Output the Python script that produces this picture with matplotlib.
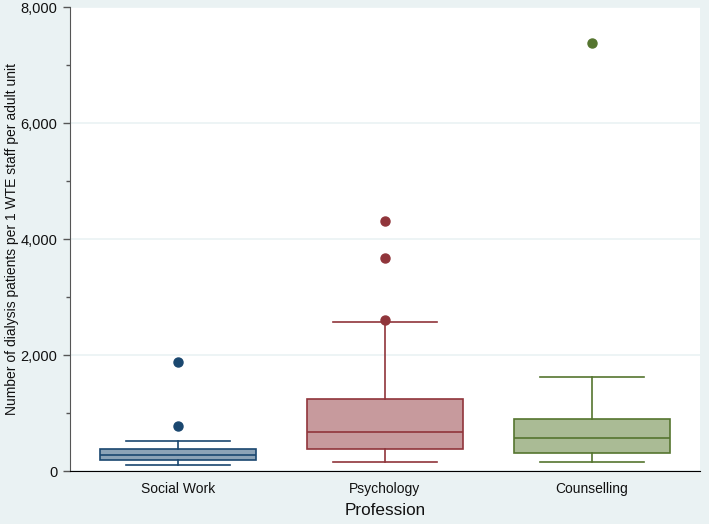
import matplotlib.pyplot as plt
from matplotlib.ticker import FuncFormatter, MultipleLocator

plt.rcParams['font.family'] = ['Liberation Sans', 'DejaVu Sans']

professions = ['Social Work', 'Psychology', 'Counselling']
q1 = [190, 374, 305]
median = [280, 667, 575]
q3 = [380, 1241, 897]
whis_lo = [98, 155, 160]
whis_hi = [517, 2570, 1626]
fliers = [[776, 1885], [2600, 3670, 4310], [7385]]

edge_colors = ['#1a476f', '#90353b', '#55752f']
fill_colors = ['#8ca3b7', '#c79a9d', '#aabb95']

bg = '#eaf2f3'
fig = plt.figure(figsize=(7.09, 5.24), dpi=100, facecolor=bg)
ax = fig.add_axes([0.0987, 0.1011, 0.8886, 0.8855])
ax.set_facecolor('white')

stats = []
for i, name in enumerate(professions):
    stats.append(dict(label=name, q1=q1[i], med=median[i], q3=q3[i],
                      whislo=whis_lo[i], whishi=whis_hi[i], fliers=fliers[i]))

for i, s in enumerate(stats):
    c = edge_colors[i]
    ax.bxp([s], positions=[i + 1], widths=0.755, capwidths=0.5,
           patch_artist=True, zorder=3,
           boxprops=dict(facecolor=fill_colors[i], edgecolor=c, linewidth=1.2),
           medianprops=dict(color=c, linewidth=1.2),
           whiskerprops=dict(color=c, linewidth=1.2),
           capprops=dict(color=c, linewidth=1.2),
           flierprops=dict(marker='o', markerfacecolor=c, markeredgecolor=c,
                           markersize=6.5, linestyle='none'))

ax.set_xlim(0.478, 3.522)
ax.set_ylim(0, 8000)
ax.yaxis.set_major_locator(MultipleLocator(2000))
ax.yaxis.set_minor_locator(MultipleLocator(1000))
ax.yaxis.set_major_formatter(FuncFormatter(lambda v, p: f'{int(v):,}'))
ax.grid(axis='y', which='major', color=bg, linewidth=1.2, zorder=0)
ax.set_axisbelow(True)

for side in ['top', 'right']:
    ax.spines[side].set_visible(False)
ax.spines['left'].set_color('#555555')
ax.spines['bottom'].set_color('black')

ax.tick_params(axis='y', which='major', length=5, width=1, color='#555555',
               labelsize=10.5, pad=4, labelcolor='#111111')
ax.tick_params(axis='y', which='minor', length=3, width=1, color='#555555')
ax.tick_params(axis='x', length=0, labelsize=10, pad=8, labelcolor='#111111')
ax.set_xticks([1, 2, 3])
ax.set_xticklabels(professions)

ax.set_ylabel('Number of dialysis patients per 1 WTE staff per adult unit',
              fontsize=10, color='#111111')
ax.yaxis.set_label_coords(-0.081, 0.5)
ax.set_xlabel('Profession', fontsize=12.3, color='#111111', labelpad=5)

fig.savefig('out.png', dpi=100, facecolor=bg)
